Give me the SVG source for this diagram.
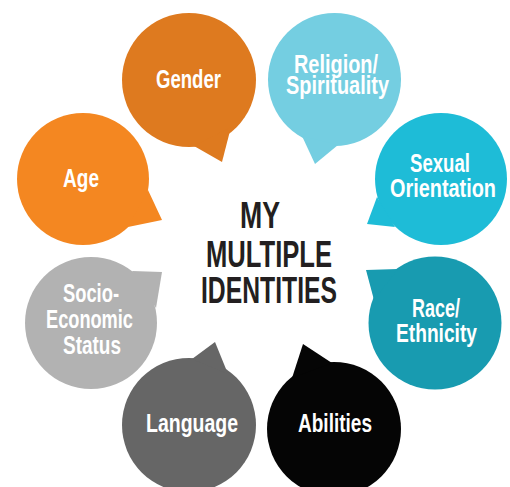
<svg xmlns="http://www.w3.org/2000/svg" width="510" height="487" viewBox="0 0 510 487">
<style>
.lbl{font-family:"Liberation Sans",Arial,sans-serif;font-weight:bold;font-size:25px;fill:#ffffff}
.ttl{font-family:"Liberation Sans",Arial,sans-serif;font-weight:bold;font-size:36px;fill:#231f20}
</style>
<rect width="510" height="487" fill="#ffffff"/>
<g id="connectors"></g>
<g id="gender" fill="#de7a1f">
<circle cx="189" cy="80" r="67"/>
<path d="M194,146 L222,162 L231,127 Z"/>
<text class="lbl" x="156" y="88" textLength="65" lengthAdjust="spacingAndGlyphs">Gender</text>
</g>
<g id="religion" fill="#74cee1">
<circle cx="334.5" cy="79.5" r="66.5"/>
<path d="M302,136 L315,164 L338,145 Z"/>
<text class="lbl" x="294" y="73" textLength="84" lengthAdjust="spacingAndGlyphs">Religion/</text>
<text class="lbl" x="286" y="94" textLength="103" lengthAdjust="spacingAndGlyphs">Spirituality</text>
</g>
<g id="age" fill="#f48721">
<circle cx="83" cy="179" r="66"/>
<path d="M148,190 L162,220 L128,227 Z"/>
<text class="lbl" x="63" y="187" textLength="36" lengthAdjust="spacingAndGlyphs">Age</text>
</g>
<g id="sexual-orientation" fill="#1ebcd7">
<circle cx="441" cy="179" r="66"/>
<path d="M377,197 L367,224 L395,227 Z"/>
<text class="lbl" x="410" y="172" textLength="60" lengthAdjust="spacingAndGlyphs">Sexual</text>
<text class="lbl" x="390" y="197" textLength="106" lengthAdjust="spacingAndGlyphs">Orientation</text>
</g>
<g id="socio-economic-status" fill="#b2b2b2">
<circle cx="91" cy="323" r="66"/>
<path d="M132,271 L162,272 L156,308 Z"/>
<text class="lbl" x="63" y="302" textLength="56" lengthAdjust="spacingAndGlyphs">Socio-</text>
<text class="lbl" x="46" y="328" textLength="87" lengthAdjust="spacingAndGlyphs">Economic</text>
<text class="lbl" x="63" y="354" textLength="58" lengthAdjust="spacingAndGlyphs">Status</text>
</g>
<g id="race-ethnicity" fill="#189bb0">
<circle cx="435" cy="323" r="66.5"/>
<path d="M398,269 L366,270 L374,300 Z"/>
<text class="lbl" x="412" y="317" textLength="48" lengthAdjust="spacingAndGlyphs">Race/</text>
<text class="lbl" x="396" y="342" textLength="81" lengthAdjust="spacingAndGlyphs">Ethnicity</text>
</g>
<g id="language" fill="#666666">
<circle cx="189" cy="425" r="67"/>
<path d="M192,359 L215,342 L228,374 Z"/>
<text class="lbl" x="146" y="432" textLength="92" lengthAdjust="spacingAndGlyphs">Language</text>
</g>
<g id="abilities" fill="#050505">
<circle cx="334" cy="429" r="67"/>
<path d="M332,363 L303,344 L292,378 Z"/>
<text class="lbl" x="298" y="432" textLength="74" lengthAdjust="spacingAndGlyphs">Abilities</text>
</g>
<g id="title">
<text class="ttl" x="240" y="228" textLength="40" lengthAdjust="spacingAndGlyphs">MY</text>
<text class="ttl" x="206" y="267" textLength="126" lengthAdjust="spacingAndGlyphs">MULTIPLE</text>
<text class="ttl" x="201" y="303" textLength="136" lengthAdjust="spacingAndGlyphs">IDENTITIES</text>
</g>
</svg>
